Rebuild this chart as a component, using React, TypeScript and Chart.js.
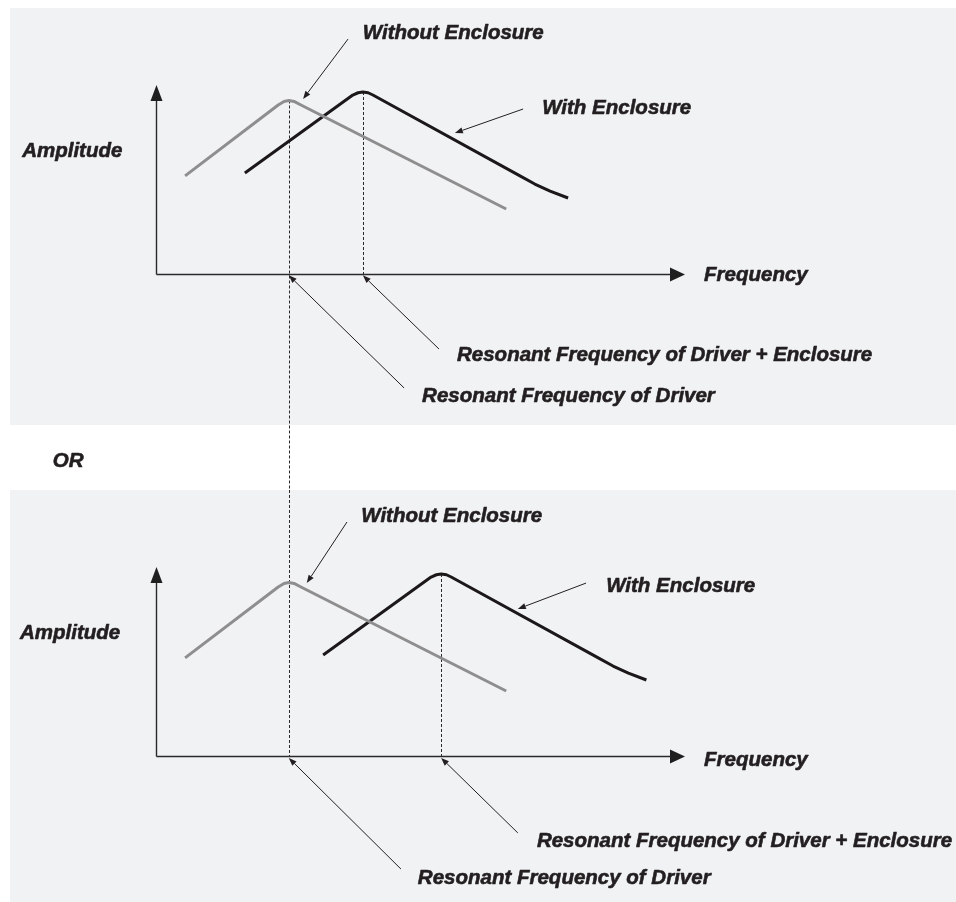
import React, { useEffect, useRef } from "react";
import { Chart, registerables } from "chart.js";

Chart.register(...registerables);

// ---- Data (frequency / amplitude in arbitrary relative units) ----
const driverFreq = [5.5, 23.1, 24.2, 25.1, 26.1, 27.4, 66.2];
const driverAmp = [51.9, 89.4, 91.3, 91.8, 91.3, 89.4, 34.4];
const enclosureFreqTop = [16.8, 37.2, 38.2, 39.1, 40.1, 41.0, 68.8, 71.6, 74.5, 77.9];
const enclosureFreqBottom = [31.6, 52.0, 53.0, 53.9, 54.9, 55.8, 83.6, 86.4, 89.3, 92.7];
const enclosureAmp = [53.4, 94.7, 95.9, 96.3, 95.9, 94.7, 51.9, 47.6, 43.9, 40.2];

const driverResonance = 25.1;
const driverPeakAmp = 91.8;
const enclosureResonanceTop = 39.1;
const enclosureResonanceBottom = 53.9;
const enclosurePeakAmp = 96.3;

const xAxisLabel = "Frequency";
const yAxisLabel = "Amplitude";
const labelWithout = "Without Enclosure";
const labelWith = "With Enclosure";
const labelResDriverEnc = "Resonant Frequency of Driver + Enclosure";
const labelResDriver = "Resonant Frequency of Driver";
const labelOr = "OR";

type Pt = { f: number; a: number };
type Label = { text: string; at: Pt };
type Arrow = { from: Pt; to: Pt };
type Guide = { freq: number; amp: number | null; extendUp?: boolean; extendDown?: boolean };

const FONT = "italic bold 20.5px 'Liberation Sans', Arial, Helvetica, sans-serif";
const INK = "#231f20";

function makePlugin(guides: Guide[], arrows: Arrow[], labels: Label[]) {
  return {
    id: "diagram",
    beforeDatasetsDraw(chart: any) {
      const { ctx, chartArea, scales } = chart;
      const { left, right, top, bottom } = chartArea;
      const xs = scales.x;
      const ys = scales.y;
      ctx.save();
      // dashed resonance guides
      ctx.setLineDash([3, 2]);
      ctx.lineWidth = 1;
      ctx.strokeStyle = "#2a2a2a";
      for (const g of guides) {
        const px = Math.round(xs.getPixelForValue(g.freq)) + 0.5;
        const y1 = g.extendUp ? 0 : ys.getPixelForValue(g.amp as number);
        const y2 = g.extendDown ? chart.height : bottom;
        ctx.beginPath();
        ctx.moveTo(px, y1);
        ctx.lineTo(px, y2);
        ctx.stroke();
      }
      ctx.setLineDash([]);
      // axes with arrowheads
      ctx.strokeStyle = "#2a2a2a";
      ctx.fillStyle = "#1f1f1f";
      ctx.lineWidth = 1.4;
      const ax = Math.round(left) + 0.5;
      const ay = Math.round(bottom) + 0.5;
      ctx.beginPath();
      ctx.moveTo(ax, ay);
      ctx.lineTo(ax, top + 15);
      ctx.moveTo(ax, ay);
      ctx.lineTo(right - 14, ay);
      ctx.stroke();
      ctx.beginPath();
      ctx.moveTo(ax, top);
      ctx.lineTo(ax - 6, top + 16);
      ctx.lineTo(ax + 6, top + 16);
      ctx.closePath();
      ctx.fill();
      ctx.beginPath();
      ctx.moveTo(right, ay);
      ctx.lineTo(right - 15, ay - 7);
      ctx.lineTo(right - 15, ay + 7);
      ctx.closePath();
      ctx.fill();
      ctx.restore();
    },
    afterDatasetsDraw(chart: any) {
      const { ctx, scales } = chart;
      const xs = scales.x;
      const ys = scales.y;
      ctx.save();
      ctx.strokeStyle = INK;
      ctx.fillStyle = INK;
      ctx.lineWidth = 1;
      for (const ar of arrows) {
        const x1 = xs.getPixelForValue(ar.from.f);
        const y1 = ys.getPixelForValue(ar.from.a);
        const x2 = xs.getPixelForValue(ar.to.f);
        const y2 = ys.getPixelForValue(ar.to.a);
        const ang = Math.atan2(y2 - y1, x2 - x1);
        const len = 8;
        const hw = 3;
        const bx = x2 - len * Math.cos(ang);
        const by = y2 - len * Math.sin(ang);
        ctx.beginPath();
        ctx.moveTo(x1, y1);
        ctx.lineTo(bx, by);
        ctx.stroke();
        ctx.beginPath();
        ctx.moveTo(x2, y2);
        ctx.lineTo(bx + hw * Math.sin(ang), by - hw * Math.cos(ang));
        ctx.lineTo(bx - hw * Math.sin(ang), by + hw * Math.cos(ang));
        ctx.closePath();
        ctx.fill();
      }
      ctx.font = FONT;
      ctx.textAlign = "left";
      ctx.textBaseline = "alphabetic";
      ctx.lineWidth = 0.6;
      ctx.lineJoin = "round";
      for (const lb of labels) {
        const tx = xs.getPixelForValue(lb.at.f);
        const ty = ys.getPixelForValue(lb.at.a);
        ctx.fillText(lb.text, tx, ty);
        ctx.strokeText(lb.text, tx, ty);
      }
      ctx.restore();
    },
  };
}

type PanelProps = {
  top: number;
  height: number;
  padding: { left: number; right: number; top: number; bottom: number };
  enclosureFreq: number[];
  guides: Guide[];
  arrows: Arrow[];
  labels: Label[];
};

function Panel(props: PanelProps) {
  const ref = useRef<HTMLCanvasElement | null>(null);
  useEffect(() => {
    if (!ref.current) return;
    const driverData = driverFreq.map((f, i) => ({ x: f, y: driverAmp[i] }));
    const encData = props.enclosureFreq.map((f, i) => ({ x: f, y: enclosureAmp[i] }));
    const chart = new Chart(ref.current, {
      type: "scatter",
      data: {
        datasets: [
          {
            label: labelWithout,
            data: driverData,
            showLine: true,
            borderColor: "#8e8e8e",
            borderWidth: 3,
            pointRadius: 0,
            tension: 0,
            borderJoinStyle: "round",
            clip: false,
          } as any,
          {
            label: labelWith,
            data: encData,
            showLine: true,
            borderColor: "#1c1819",
            borderWidth: 3,
            pointRadius: 0,
            tension: 0,
            borderJoinStyle: "round",
            clip: false,
          } as any,
        ],
      },
      options: {
        animation: false,
        responsive: false,
        devicePixelRatio: 1,
        events: [],
        layout: { padding: props.padding },
        plugins: { legend: { display: false }, tooltip: { enabled: false } },
        scales: {
          x: { type: "linear", min: 0, max: 100, display: false },
          y: { type: "linear", min: 0, max: 100, display: false },
        },
      },
      plugins: [makePlugin(props.guides, props.arrows, props.labels)],
    });
    return () => chart.destroy();
  }, []);
  return (
    <canvas
      ref={ref}
      width={956}
      height={props.height}
      style={{ position: "absolute", left: 0, top: props.top, width: 956, height: props.height, display: "block" }}
    />
  );
}

const topGuides: Guide[] = [
  { freq: driverResonance, amp: driverPeakAmp, extendDown: true },
  { freq: enclosureResonanceTop, amp: enclosurePeakAmp },
];
const bottomGuides: Guide[] = [
  { freq: driverResonance, amp: null, extendUp: true },
  { freq: enclosureResonanceBottom, amp: enclosurePeakAmp },
];

const topArrows: Arrow[] = [
  { from: { f: 36.3, a: 124.3 }, to: { f: 27.8, a: 92.6 } },
  { from: { f: 69.4, a: 87.3 }, to: { f: 56.5, a: 74.6 } },
  { from: { f: 53.5, a: -39.7 }, to: { f: enclosureResonanceTop, a: -0.7 } },
  { from: { f: 46.9, a: -60.3 }, to: { f: driverResonance, a: -0.7 } },
];
const bottomArrows: Arrow[] = [
  { from: { f: 36.1, a: 123.8 }, to: { f: 28.5, a: 91.5 } },
  { from: { f: 81.3, a: 91.5 }, to: { f: 68.4, a: 77.8 } },
  { from: { f: 68.4, a: -40.7 }, to: { f: enclosureResonanceBottom, a: -1 } },
  { from: { f: 46.3, a: -59.8 }, to: { f: driverResonance, a: -1 } },
];

const topLabels: Label[] = [
  { text: labelWithout, at: { f: 39.1, a: 124.3 } },
  { text: labelWith, at: { f: 73.0, a: 84.7 } },
  { text: xAxisLabel, at: { f: 103.6, a: -3.7 } },
  { text: yAxisLabel, at: { f: -25.3, a: 61.9 } },
  { text: labelResDriverEnc, at: { f: 56.9, a: -46 } },
  { text: labelResDriver, at: { f: 50.3, a: -67.7 } },
  { text: labelOr, at: { f: -19.5, a: -102.1 } },
];
const bottomLabels: Label[] = [
  { text: labelWithout, at: { f: 38.8, a: 123.8 } },
  { text: labelWith, at: { f: 85.1, a: 86.8 } },
  { text: xAxisLabel, at: { f: 103.6, a: -5.3 } },
  { text: yAxisLabel, at: { f: -25.7, a: 61.9 } },
  { text: labelResDriverEnc, at: { f: 72.0, a: -48.1 } },
  { text: labelResDriver, at: { f: 49.5, a: -67.7 } },
];

export default function App() {
  const panelBg = "#f1f2f4";
  return (
    <div style={{ position: "absolute", left: 0, top: 0, width: 956, height: 902, background: "#ffffff", overflow: "hidden" }}>
      <div style={{ position: "absolute", left: 10, top: 8, width: 946, height: 417, background: panelBg }} />
      <div style={{ position: "absolute", left: 10, top: 490, width: 946, height: 412, background: panelBg }} />
      <Panel
        top={0}
        height={490}
        padding={{ left: 156, right: 271, top: 85, bottom: 216 }}
        enclosureFreq={enclosureFreqTop}
        guides={topGuides}
        arrows={topArrows}
        labels={topLabels}
      />
      <Panel
        top={490}
        height={412}
        padding={{ left: 156, right: 271, top: 77, bottom: 146 }}
        enclosureFreq={enclosureFreqBottom}
        guides={bottomGuides}
        arrows={bottomArrows}
        labels={bottomLabels}
      />
    </div>
  );
}
